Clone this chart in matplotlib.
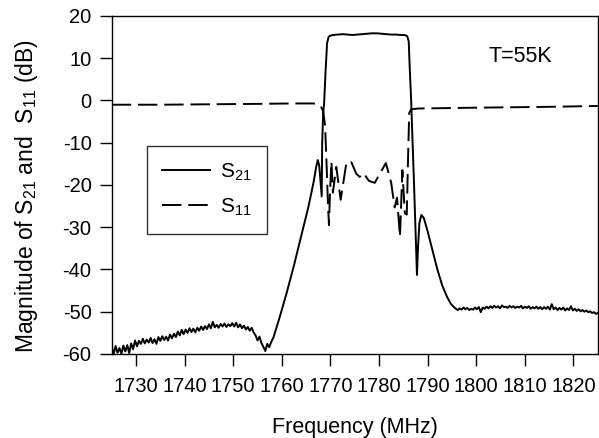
import numpy as np
import matplotlib
matplotlib.use("Agg")
import matplotlib.pyplot as plt

plt.rcParams['font.family'] = ['Liberation Sans', 'DejaVu Sans']
plt.rcParams['mathtext.default'] = 'regular'
plt.rcParams['axes.unicode_minus'] = False

# ---- S21: lower stopband (noisy), 1725 .. 1757.8 MHz
s21_low_start, s21_low_stop = 1725.0, 1757.8
s21_low_db = [
    -58.4, -60.0, -58.1, -59.7, -58.6, -60.0, -58.0, -59.4, -57.9, -59.8,
    -57.5, -58.9, -56.8, -58.2, -56.9, -57.6, -56.4, -57.5, -56.6, -57.3,
    -56.2, -57.4, -56.5, -57.6, -56.0, -56.9, -55.8, -56.7, -55.9, -56.8,
    -55.4, -56.3, -55.2, -56.0, -54.7, -55.6, -54.3, -55.3, -54.2, -55.0,
    -53.9, -54.8, -54.0, -54.9, -53.8, -54.5, -53.5, -54.3, -53.4, -54.1,
    -53.0, -53.9, -52.4, -53.7, -53.1, -53.8, -52.9, -53.5, -52.8, -53.6,
    -53.0, -53.4, -52.7, -53.5, -52.6, -53.7, -53.0, -53.9, -53.3, -54.2,
    -53.6, -54.5, -53.8, -54.9, -55.6, -56.8, -55.9, -57.4, -58.3, -59.3,
    -57.6, -58.4, -57.2,
]

# ---- S21: skirts and passband
s21_mid_freq = [
    1758.3, 1759.5, 1761.0, 1762.5, 1764.0, 1765.5, 1766.5, 1767.1, 1767.4,
    1767.7, 1768.0, 1768.2, 1768.3, 1768.5, 1768.7, 1769.0, 1769.3, 1769.6,
    1769.9, 1770.5, 1771.5, 1772.5, 1773.5, 1774.5, 1775.5, 1776.5, 1777.5,
    1778.5, 1779.5, 1780.5, 1781.5, 1782.5, 1783.5, 1784.5, 1785.3, 1785.8,
    1786.1, 1786.3, 1786.6, 1787.2, 1787.8, 1788.0, 1788.3, 1788.7, 1789.2,
    1790.0, 1791.0, 1792.0, 1793.0, 1794.0, 1794.8, 1795.5,
]
s21_mid_db = [
    -56.0, -51.5, -45.5, -39.0, -32.0, -25.0, -19.5, -15.5, -14.1,
    -15.5, -20.0, -22.7, -10.0, -3.0, -0.6, 7.0, 13.5, 15.0,
    15.3, 15.5, 15.6, 15.7, 15.6, 15.5, 15.6, 15.7, 15.8,
    15.9, 15.9, 15.8, 15.7, 15.6, 15.6, 15.5, 15.5, 15.2,
    14.0, 8.0, 0.0, -20.0, -41.3, -35.0, -29.0, -27.1, -27.8,
    -31.0, -35.5, -40.0, -43.8, -46.5, -48.2, -49.0,
]

# ---- S21: upper stopband (noisy), 1795.8 .. 1825 MHz
s21_high_start, s21_high_stop = 1795.8, 1825.0
s21_high_db = [
    -49.3, -49.6, -49.2, -49.5, -49.0, -49.4, -49.1, -49.6, -49.3, -49.5,
    -49.0, -49.4, -48.9, -50.1, -49.0, -49.3, -48.8, -49.2, -48.7, -49.1,
    -48.6, -49.0, -48.7, -49.2, -48.5, -48.9, -48.8, -49.1, -48.6, -49.0,
    -48.7, -49.1, -48.8, -49.0, -48.6, -49.2, -48.8, -49.1, -48.7, -49.3,
    -48.9, -49.2, -48.8, -49.3, -48.9, -49.4, -48.9, -49.3, -48.8, -49.5,
    -48.2, -49.4, -49.0, -49.6, -49.1, -49.5, -49.0, -49.7, -49.2, -49.6,
    -48.7, -49.7, -49.3, -49.8, -49.4, -49.9, -49.6, -50.0, -49.7, -50.1,
    -49.9, -50.3, -50.1, -50.5, -50.3,
]

# ---- S11
s11_freq = [
    1725.0, 1735.0, 1745.0, 1755.0, 1762.0, 1766.5, 1767.5, 1768.1, 1768.5,
    1768.9, 1769.2, 1769.5, 1769.7, 1769.9, 1770.2, 1770.5, 1771.2, 1772.1,
    1773.3, 1774.3, 1775.3, 1776.0, 1776.8, 1777.9, 1779.1, 1781.4, 1782.5,
    1783.2, 1783.7, 1784.3, 1784.8, 1785.3, 1785.7, 1786.0, 1786.2, 1786.6,
    1788.0, 1800.0, 1815.0, 1825.0,
]
s11_db = [
    -1.0, -1.0, -0.9, -0.8, -0.7, -0.7, -1.0, -1.6, -2.5,
    -6.0, -15.0, -25.0, -29.5, -22.0, -14.5, -21.8, -15.7, -23.5,
    -14.6, -14.6, -17.3, -18.1, -17.2, -19.0, -19.5, -14.8, -19.5,
    -25.3, -23.0, -32.2, -16.5, -26.7, -27.0, -12.0, -3.0, -2.1,
    -1.9, -1.7, -1.5, -1.3,
]

x_ticks = [1730, 1740, 1750, 1760, 1770, 1780, 1790, 1800, 1810, 1820]
y_ticks = [-60, -50, -40, -30, -20, -10, 0, 10, 20]

s21_freq = np.concatenate([
    np.linspace(s21_low_start, s21_low_stop, len(s21_low_db)),
    np.array(s21_mid_freq),
    np.linspace(s21_high_start, s21_high_stop, len(s21_high_db)),
])
s21_db = np.concatenate([s21_low_db, s21_mid_db, s21_high_db])

fig = plt.figure(figsize=(5.99, 4.38), dpi=100)
ax = fig.add_axes([0.1865, 0.1918, 0.8115, 0.7717])

ax.plot(s21_freq, s21_db, color='black', lw=1.4, label='S$_{21}$')
ax.plot(s11_freq, s11_db, color='black', lw=1.4, dashes=(10, 3.5),
        label='S$_{11}$')

ax.set_xlim(1725, 1825)
ax.set_ylim(-60, 20)
ax.set_xticks(x_ticks)
ax.set_yticks(y_ticks)
ax.tick_params(direction='out', length=8.5, width=1, labelsize=14.5, pad=6)
ax.tick_params(axis='x', pad=8)
for s in ax.spines.values():
    s.set_linewidth(1)

ax.set_xlabel('Frequency (MHz)', fontsize=15.5, labelpad=15)
ax.set_ylabel('Magnitude of S$_{21}$ and  S$_{11}$ (dB)', fontsize=16.5)
ax.yaxis.set_label_coords(-0.148, 0.467)

ax.text(1802.5, 10.3, 'T=55K', fontsize=15.5, va='center', ha='left')

leg = ax.legend(loc='upper left', bbox_to_anchor=(0.072, 0.615), fontsize=15,
                frameon=True, fancybox=False, edgecolor='black',
                handlelength=2.3, handletextpad=0.45, borderpad=0.75,
                labelspacing=0.65, borderaxespad=0)
leg.get_frame().set_linewidth(1)

fig.savefig('out.png', dpi=100)
